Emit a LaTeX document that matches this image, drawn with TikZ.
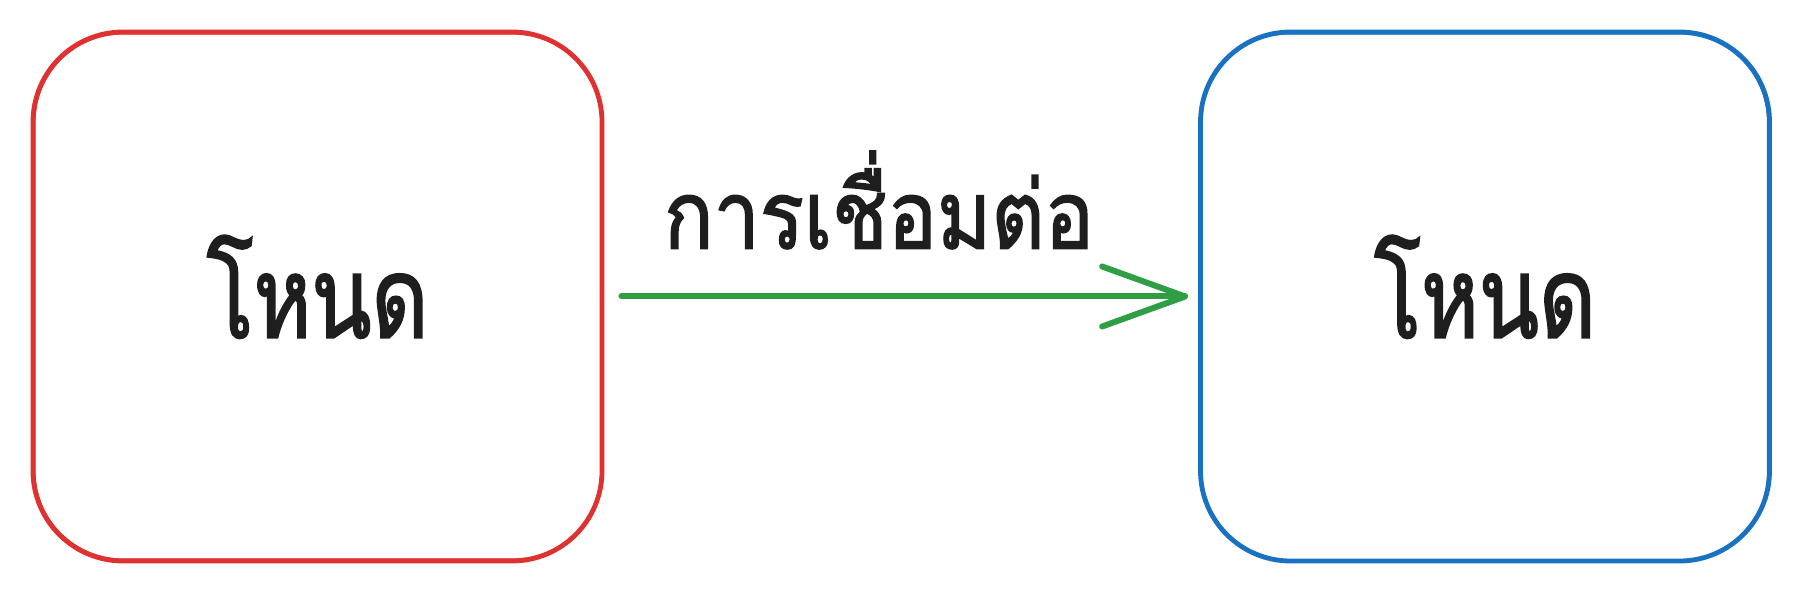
\documentclass[tikz,border=0pt]{standalone}
\usepackage{fontspec}
\newfontfamily\thainode[Script=Thai,FakeStretch=0.77,FakeBold=1.6]{Loma}
\newfontfamily\thailbl[Script=Thai,FakeStretch=0.865,FakeBold=1.6]{Loma}
\definecolor{nodered}{HTML}{E03131}
\definecolor{nodeblue}{HTML}{1971C2}
\definecolor{edgegreen}{HTML}{2F9E44}
\definecolor{ink}{HTML}{1E1E1E}
\begin{document}
\begin{tikzpicture}[x=0.5pt,y=-0.5pt,
  nodebox/.style={draw, line width=2.4pt, rounded corners=45pt, minimum width=284.5pt, minimum height=264.5pt, inner sep=0pt, text=ink, font=\thainode\fontsize{57}{68}\selectfont},
  sketch/.style={line width=1pt, rounded corners=44pt},
  edgeline/.style={draw=edgegreen, line width=3pt, line cap=round, line join=round}
]
\useasboundingbox (0,0) rectangle (1798,592);
\node[nodebox, draw=nodered] (a) at (317.5,296.5) {\raisebox{10pt}{โหนด}};
\node[nodebox, draw=nodeblue] (b) at (1485,296.5) {\raisebox{10pt}{โหนด}};
\draw[sketch, nodered] ([shift={(4,4)}]a.north west) rectangle ([shift={(-3,-4)}]a.south east);
\draw[sketch, nodeblue] ([shift={(3,4)}]b.north west) rectangle ([shift={(-4,-3)}]b.south east);
\coordinate (start) at ([xshift=8.5pt]a.east);
\coordinate (tip) at ([xshift=-6.5pt]b.west);
\draw[edgeline] (start) -- (tip);
\draw[edgeline] ([shift={(-83,-30)}]tip) -- (tip) -- ([shift={(-83,30)}]tip);
\node[text=ink, font=\thailbl\fontsize{47.5}{56}\selectfont] (lbl) at (879,200) {การเชื่อมต่อ};
\end{tikzpicture}
\end{document}
